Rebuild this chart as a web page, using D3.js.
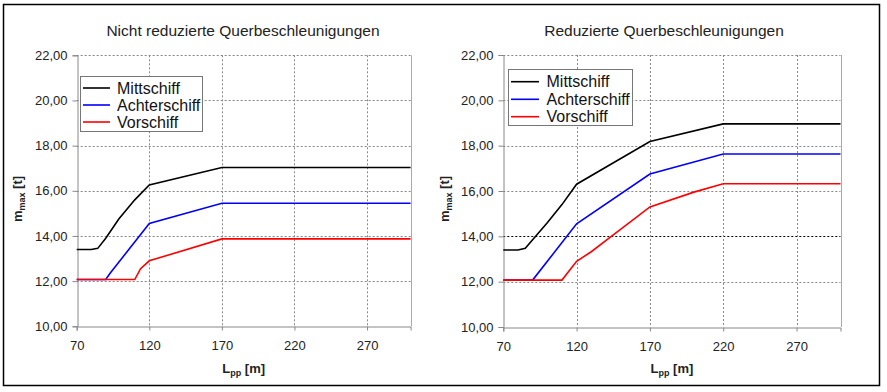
<html>
<script src="https://cdnjs.cloudflare.com/ajax/libs/d3/7.8.5/d3.min.js"></script>
<body style="margin:0; background:white;">
  <div id="graph"></div>
</body>
<script>
    // values, [Lpp, m_max]
    var xTicks = [70, 120, 170, 220, 270]
    var yTicks = [10, 12, 14, 16, 18, 20, 22]
    var seriesNames = ["Mittschiff", "Achterschiff", "Vorschiff"]
    var seriesColors = ["#000000", "#0000ff", "#ff0000"]

    var leftMittschiff = [[70,13.4],[80,13.4],[84.5,13.45],[90,13.9],[99,14.75],[110,15.6],[120,16.26],[170,17.03],[300,17.03]]
    var leftAchterschiff = [[70,12.07],[90,12.07],[93,12.35],[120,14.55],[170,15.45],[300,15.45]]
    var leftVorschiff = [[70,12.07],[110,12.07],[114,12.55],[120,12.9],[170,13.87],[300,13.87]]

    var rightMittschiff = [[70,13.4],[80,13.4],[85,13.47],[90,13.85],[100,14.6],[110,15.4],[120,16.3],[170,18.18],[220,18.96],[300,18.96]]
    var rightAchterschiff = [[70,12.07],[90,12.07],[120,14.55],[170,16.75],[220,17.63],[300,17.63]]
    var rightVorschiff = [[70,12.07],[110,12.07],[120,12.9],[130,13.32],[143,13.97],[156,14.6],[170,15.3],[200,15.95],[220,16.32],[300,16.32]]

    var W = 887, H = 392
    var svg = d3.select("#graph").append("svg")
        .attr("width", W).attr("height", H)
        .style("font-family", "'Liberation Sans', Arial, sans-serif")

    // outer frame
    svg.append("rect").attr("x", 3.5).attr("y", 4.5).attr("width", 876).attr("height", 381)
        .style("fill", "white").style("stroke", "#000").style("stroke-width", 1.5)

    var charts = [
        {title: "Nicht reduzierte Querbeschleunigungen", titleX: 243, x0: 76.7, x1: 410.6, y0: 55.3, y1: 326.3,
         series: [leftMittschiff, leftAchterschiff, leftVorschiff], ylabX: 22,
         legend: {x: 80.5, y: 76.5, w: 122, h: 55, lx0: 83, lx1: 110, tx: 117, rows: [88, 105, 122]}, darkGrid: null},
        {title: "Reduzierte Querbeschleunigungen", titleX: 664, x0: 503.3, x1: 840.5, y0: 55, y1: 327,
         series: [rightMittschiff, rightAchterschiff, rightVorschiff], ylabX: 449,
         legend: {x: 508.5, y: 69.5, w: 124, h: 56, lx0: 511, lx1: 539, tx: 546.5, rows: [81.7, 99.3, 116.7]}, darkGrid: 14}
    ]

    charts.forEach(function(c) {
        var X = d3.scaleLinear().domain([70, 300]).range([c.x0, c.x1])
        var Y = d3.scaleLinear().domain([10, 22]).range([c.y1, c.y0])
        var g = svg.append("g")

        // grid
        g.selectAll(".hg").data(yTicks.filter(function(d) { return d > 10 }))
          .enter().append("line")
            .attr("x1", c.x0).attr("x2", c.x1)
            .attr("y1", function(d) { return Math.round(Y(d)) + 0.5 })
            .attr("y2", function(d) { return Math.round(Y(d)) + 0.5 })
            .style("stroke", function(d) { return d == c.darkGrid ? "#000" : "#888" })
            .style("stroke-dasharray", "2,2")
        g.selectAll(".vg").data(xTicks.filter(function(d) { return d > 70 }))
          .enter().append("line")
            .attr("x1", function(d) { return Math.round(X(d)) + 0.5 })
            .attr("x2", function(d) { return Math.round(X(d)) + 0.5 })
            .attr("y1", c.y0).attr("y2", c.y1)
            .style("stroke", "#888").style("stroke-dasharray", "2,2")
        // right border of plot area
        g.append("line").attr("x1", Math.round(c.x1) + 0.5).attr("x2", Math.round(c.x1) + 0.5)
            .attr("y1", c.y0).attr("y2", c.y1).style("stroke", "#aaa")

        // axes
        var fmt = function(d) { return d3.format(".2f")(d).replace(".", ",") }
        var ax = g.append("g").attr("transform", "translate(" + (Math.round(c.x0) + 0.5) + ",0)")
            .call(d3.axisLeft(Y).tickValues(yTicks).tickFormat(fmt).tickSize(5).tickPadding(5))
        var bx = g.append("g").attr("transform", "translate(0," + (Math.round(c.y1) + 0.5) + ")")
            .call(d3.axisBottom(X).tickValues(xTicks).tickSize(4).tickPadding(10))
        ;[ax, bx].forEach(function(a) {
            a.select(".domain").style("stroke", "#888")
            a.selectAll(".tick line").style("stroke", "#888")
            a.selectAll("text").style("font-size", "13px").style("fill", "#222")
                .style("font-family", "'Liberation Sans', Arial, sans-serif")
        })

        // lines
        var line = d3.line().x(function(d) { return X(d[0]) }).y(function(d) { return Y(d[1]) })
        c.series.forEach(function(s, i) {
            g.append("path").datum(s).attr("d", line)
                .style("fill", "none").style("stroke", seriesColors[i]).style("stroke-width", 1.6)
        })

        // title
        g.append("text").attr("x", c.titleX).attr("y", 36).attr("text-anchor", "middle")
            .style("font-size", "15.5px").style("fill", "#222").text(c.title)

        // x axis label
        var xl = g.append("text").attr("x", (c.x0 + c.x1) / 2).attr("y", 372.5).attr("text-anchor", "middle")
            .style("font-size", "13px").style("font-weight", "bold").style("fill", "#222")
        xl.append("tspan").text("L")
        xl.append("tspan").attr("dy", 3).style("font-size", "9px").text("pp")
        xl.append("tspan").attr("dy", -3).text(" [m]")

        // y axis label
        var yl = g.append("text").attr("transform", "translate(" + c.ylabX + ",199) rotate(-90)")
            .attr("text-anchor", "middle")
            .style("font-size", "13px").style("font-weight", "bold").style("fill", "#222")
        yl.append("tspan").text("m")
        yl.append("tspan").attr("dy", 3).style("font-size", "9px").text("max")
        yl.append("tspan").attr("dy", -3).text(" [t]")

        // legend
        var L = c.legend
        g.append("rect").attr("x", L.x).attr("y", L.y).attr("width", L.w).attr("height", L.h)
            .style("fill", "white").style("stroke", "#777")
        seriesNames.forEach(function(n, i) {
            g.append("line").attr("x1", L.lx0).attr("x2", L.lx1).attr("y1", L.rows[i]).attr("y2", L.rows[i])
                .style("stroke", seriesColors[i]).style("stroke-width", 1.6)
            g.append("text").attr("x", L.tx).attr("y", L.rows[i] + 5.5)
                .style("font-size", "16px").style("fill", "#111").text(n)
        })
    })
</script>
</html>
